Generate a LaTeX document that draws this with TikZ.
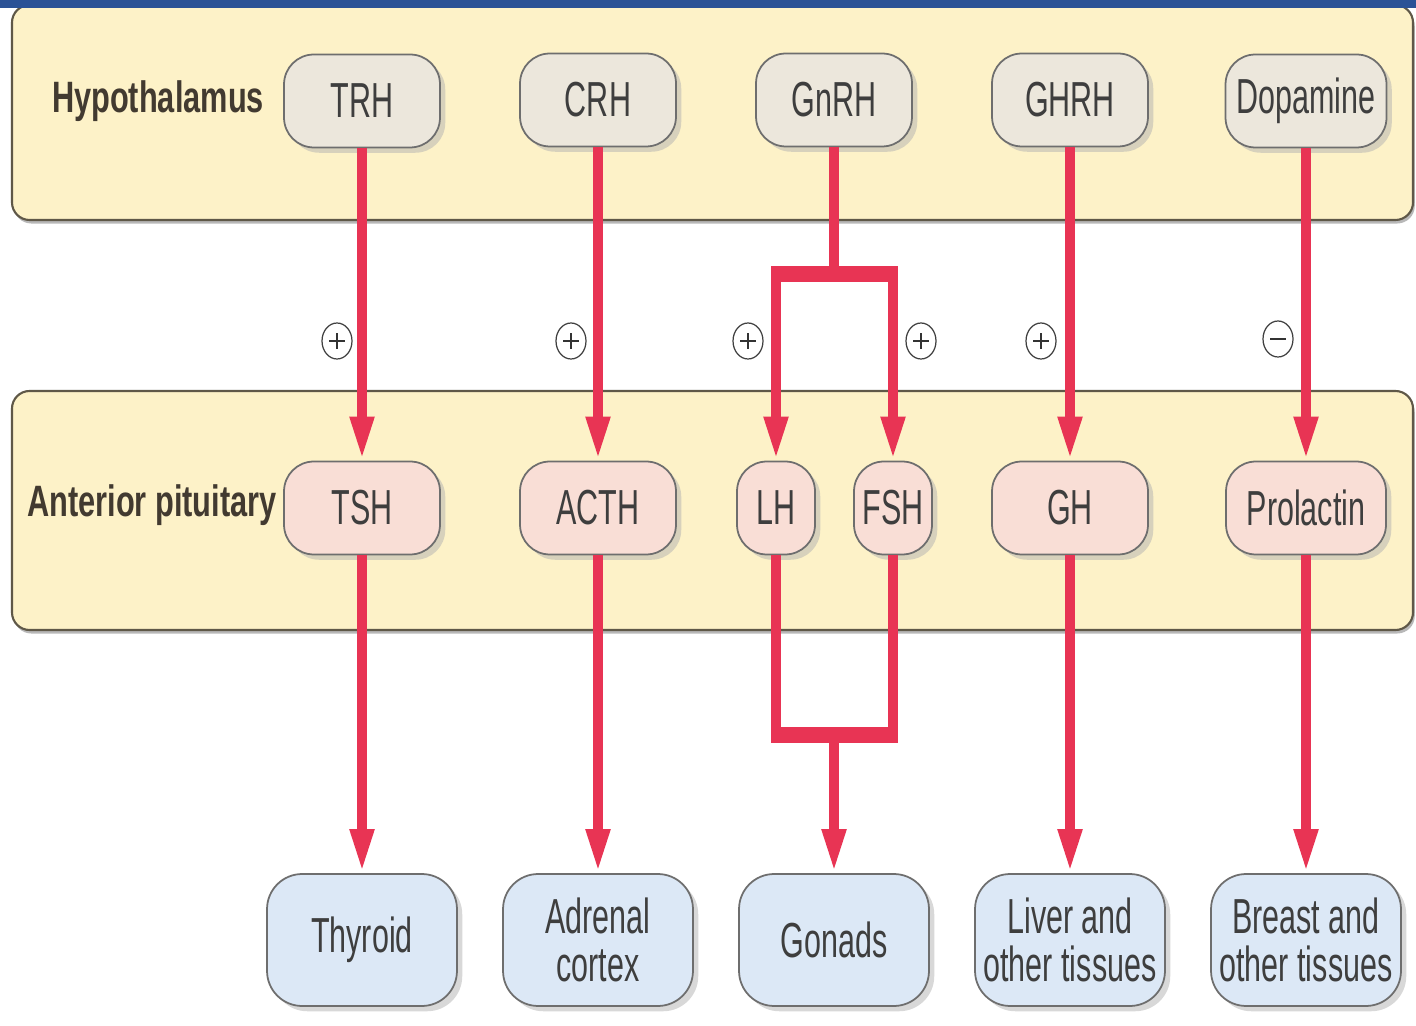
\documentclass[tikz,border=0pt]{standalone}
\usepackage{fontspec}
\setmainfont{Liberation Sans}
\newfontfamily\nfont{Liberation Sans}[FakeStretch=0.62]
\newfontfamily\bfont{Liberation Sans}[FakeStretch=0.70]
\usetikzlibrary{arrows.meta,shadows}
\definecolor{bandfill}{RGB}{253,242,200}
\definecolor{bandline}{RGB}{95,88,72}
\definecolor{boxline}{RGB}{110,110,110}
\definecolor{hypfill}{RGB}{236,231,220}
\definecolor{pitfill}{RGB}{249,222,214}
\definecolor{tgtfill}{RGB}{220,232,246}
\definecolor{redc}{RGB}{232,52,84}
\definecolor{txt}{RGB}{62,62,62}
\definecolor{labtxt}{RGB}{66,58,48}
\definecolor{topbar}{RGB}{43,82,150}
\tikzset{
  band/.style={fill=bandfill, draw=bandline, line width=1.2pt, rounded corners=10pt,
    drop shadow={shadow xshift=1pt, shadow yshift=-2pt, fill=black!55}},
  box/.style={draw=boxline, line width=1pt, rounded corners=17pt, text=txt, align=center,
    inner sep=0pt, font=\nfont\fontsize{28}{27}\selectfont,
    drop shadow={shadow xshift=3pt, shadow yshift=-3pt, fill=black!30}},
  hyp/.style={box, fill=hypfill, minimum width=3.12cm, minimum height=1.86cm},
  pit/.style={box, fill=pitfill, minimum width=3.12cm, minimum height=1.86cm},
  pitsmall/.style={box, fill=pitfill, minimum width=1.56cm, minimum height=1.86cm},
  tgt/.style={box, fill=tgtfill, minimum width=3.8cm, minimum height=2.64cm, rounded corners=20pt},
  lab/.style={text=labtxt, font=\bfont\bfseries\fontsize{25}{25}\selectfont, inner sep=0pt},
  redline/.style={draw=redc, line width=5.7pt},
  arr/.style={redline, -{Triangle[width=12.5pt,length=25pt]}},
  signc/.style={ellipse, draw=black!75, line width=0.7pt, minimum width=0.6cm, minimum height=0.72cm, inner sep=0pt, fill=white},
  plus/.style={signc, path picture={
    \draw[black!80, line width=1.3pt] ([xshift=-4.5pt]path picture bounding box.center) -- ([xshift=4.5pt]path picture bounding box.center);
    \draw[black!80, line width=1.3pt] ([yshift=-4.5pt]path picture bounding box.center) -- ([yshift=4.5pt]path picture bounding box.center);}},
  minus/.style={signc, path picture={
    \draw[black!80, line width=1.3pt] ([xshift=-4.5pt]path picture bounding box.center) -- ([xshift=4.5pt]path picture bounding box.center);}}
}
\usetikzlibrary{shapes.geometric}
\begin{document}
\begin{tikzpicture}[x=0.02cm, y=-0.02cm]
\useasboundingbox (0,0) rectangle (1416,1026);
\fill[white] (0,0) rectangle (1416,1026);
% bands
\path[band] (12,5) rectangle (1413,220);
\path[band] (12,391) rectangle (1413,630);
\fill[topbar] (0,0) rectangle (1416,8);
% labels
\node[lab] (hlab) at (158,101) {Hypothalamus};
\node[lab] (plab) at (152,505) {Anterior pituitary};
% hypothalamus
\node[hyp] (TRH) at (362,101) {TRH};
\node[hyp] (CRH) at (598,100) {CRH};
\node[hyp] (GnRH) at (834,100) {GnRH};
\node[hyp] (GHRH) at (1070,100) {GHRH};
\node[hyp, minimum width=3.22cm] (Dop) at (1306,101) {Dopamine};
% pituitary
\node[pit] (TSH) at (362,508) {TSH};
\node[pit] (ACTH) at (598,508) {ACTH};
\node[pitsmall] (LH) at (776,508) {LH};
\node[pitsmall] (FSH) at (893,508) {FSH};
\node[pit] (GH) at (1070,508) {GH};
\node[pit, minimum width=3.2cm] (PRL) at (1306,508) {Prolactin};
% targets
\node[tgt] (Thy) at (362,940) {Thyroid};
\node[tgt] (Adr) at (598,940) {Adrenal\\cortex};
\node[tgt] (Gon) at (834,940) {Gonads};
\node[tgt] (Liv) at (1070,940) {Liver and\\other tissues};
\node[tgt] (Bre) at (1306,940) {Breast and\\other tissues};
% signs
\node[plus] (s1) at (337,341) {};
\node[plus] (s2) at (571,341) {};
\node[plus] (s3) at (748,341) {};
\node[plus] (s4) at (921,341) {};
\node[plus] (s5) at (1041,341) {};
\node[minus] (s6) at (1278,339) {};
% hypothalamus -> pituitary
\draw[arr] (TRH.south) -- (TSH.north);
\draw[arr] (CRH.south) -- (ACTH.north);
\draw[arr] (GHRH.south) -- (GH.north);
\draw[arr] (Dop.south) -- (PRL.north);
\coordinate (gs) at (834,274);
\coordinate (gl) at (776,274);
\coordinate (gr) at (893,274);
\draw[redline] (GnRH.south) -- (gs);
\draw[redc, line width=9.5pt] ([xshift=-2.85pt]gl) -- ([xshift=2.85pt]gr);
\draw[arr] (gl) -- (LH.north);
\draw[arr] (gr) -- (FSH.north);
% pituitary -> targets
\draw[arr] (TSH.south) -- (Thy.north);
\draw[arr] (ACTH.south) -- (Adr.north);
\draw[arr] (GH.south) -- (Liv.north);
\draw[arr] (PRL.south) -- (Bre.north);
\coordinate (bl) at (776,735);
\coordinate (br) at (893,735);
\coordinate (bs) at (834,735);
\draw[redline] (LH.south) -- (bl);
\draw[redline] (FSH.south) -- (br);
\draw[redc, line width=9pt] ([xshift=-2.85pt]bl) -- ([xshift=2.85pt]br);
\draw[arr] (bs) -- (Gon.north);
\end{tikzpicture}
\end{document}
